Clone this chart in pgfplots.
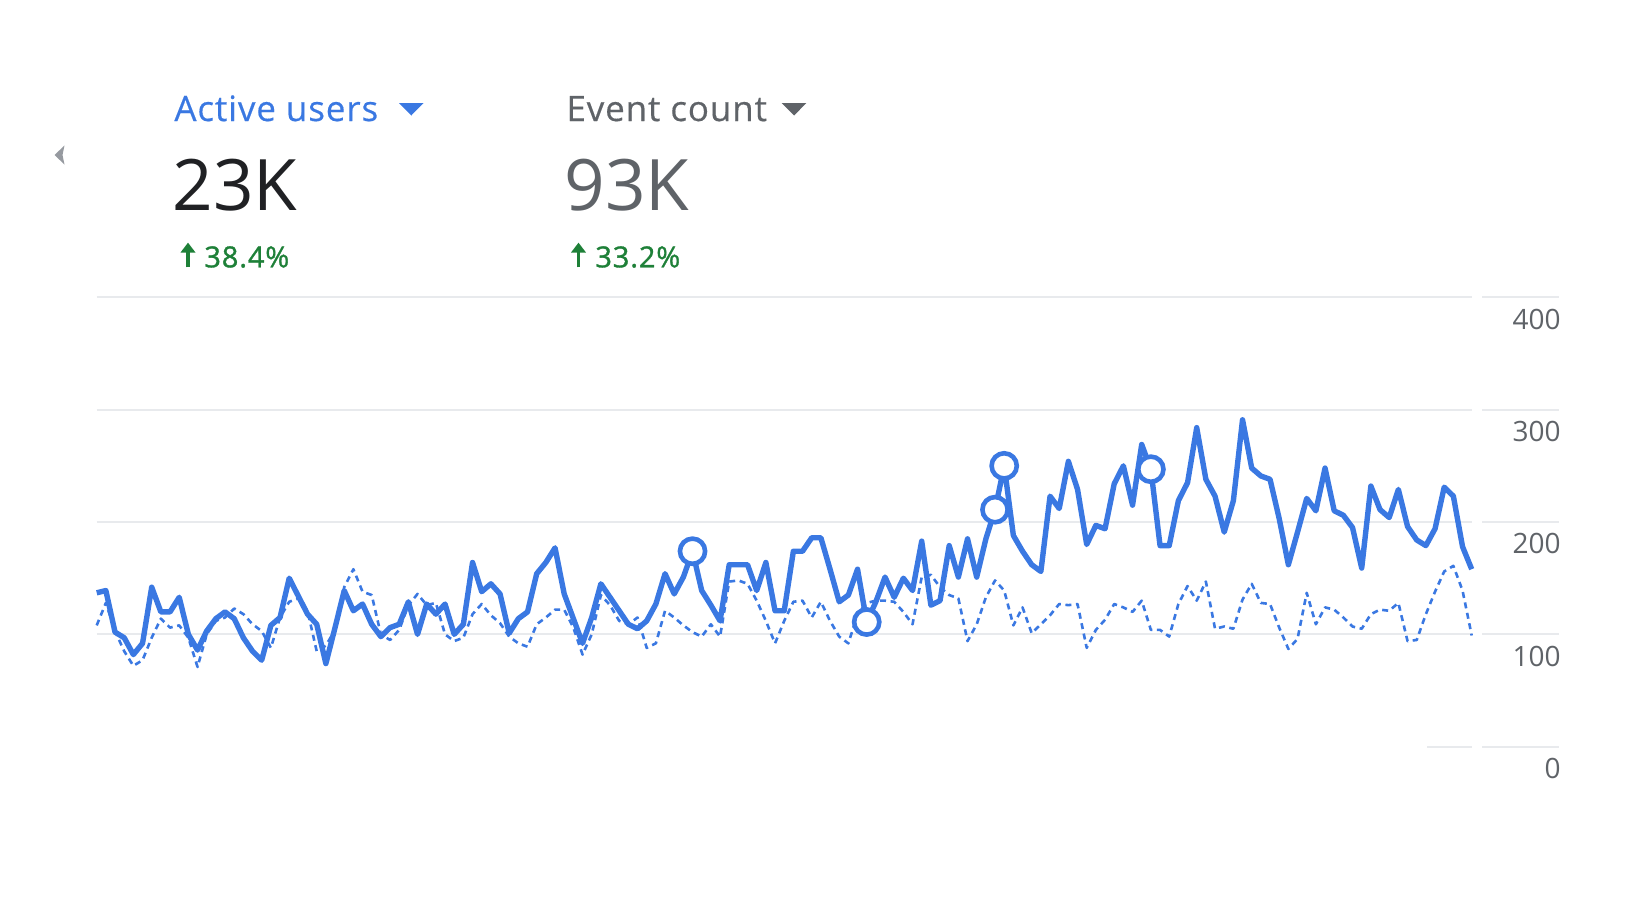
\documentclass[border=0pt]{standalone}
\usepackage{pgfplots}
\pgfplotsset{compat=1.18}
\usepackage{pgfplotstable}
\usepackage{fontspec}
\setmainfont{Open Sans}
\definecolor{gblue}{RGB}{58,120,226}
\definecolor{ggrid}{RGB}{232,234,237}
\definecolor{ggrey}{RGB}{95,99,104}
\definecolor{gblack}{RGB}{32,33,36}
\definecolor{ggreen}{RGB}{30,128,56}
\definecolor{gchev}{RGB}{150,154,160}

\pgfplotstableread{
x cur prev
0 137 108
1 139 128
2 102 103
3 97 85
4 82 72
5 92 77
6 142 97
7 120 114
8 120 106
9 133 108
10 100 97
11 86 71
12 103 100
13 114 112
14 120 115
15 114 123
16 97 118
17 85 109
18 77 103
19 108 88
20 115 115
21 150 129
22 134 132
23 118 121
24 109 85
25 74 90
26 106 104
27 139 142
28 121 158
29 127 138
30 109 135
31 98 100
32 106 95
33 109 104
34 129 126
35 100 136
36 127 126
37 118 128
38 127 100
39 100 94
40 109 97
41 164 118
42 138 127
43 145 117
44 136 110
45 101 98
46 114 92
47 120 89
48 154 109
49 164 115
50 177 122
51 136 122
52 114 106
53 92 82
54 115 100
55 145 135
56 133 126
57 121 112
58 109 109
59 105 115
60 112 88
61 127 92
62 154 121
63 136 115
64 151 108
65 174 102
66 139 98
67 126 109
68 112 98
69 162 147
70 162 148
71 162 145
72 139 130
73 164 112
74 121 92
75 121 112
76 174 129
77 174 130
78 186 115
79 186 129
80 158 112
81 129 98
82 135 92
83 158 118
84 111 128
85 129 130
86 151 130
87 133 129
88 150 120
89 139 109
90 183 151
91 126 153
92 130 142
93 179 135
94 151 132
95 185 94
96 151 109
97 185 133
98 211 148
99 250 139
100 188 108
101 174 124
102 162 101
103 156 109
104 223 117
105 212 127
106 254 126
107 229 127
108 180 88
109 197 104
110 194 113
111 234 127
112 250 124
113 215 120
114 269 130
115 247 104
116 179 104
117 179 98
118 219 127
119 235 143
120 284 130
121 238 147
122 223 105
123 191 107
124 219 105
125 291 131
126 248 145
127 241 128
128 238 127
129 203 106
130 162 87
131 191 96
132 221 137
133 210 109
134 248 124
135 210 122
136 206 115
137 195 107
138 159 105
139 232 118
140 211 122
141 204 121
142 229 128
143 196 94
144 184 95
145 179 118
146 194 138
147 231 156
148 223 161
149 178 139
150 158 99
}\datatable

\pgfplotstableread{
x y
65 174
84 111
98 211
99 250
115 247
}\anomtable

\begin{document}
\begin{tikzpicture}
\path[use as bounding box] (0pt,0pt) rectangle (819pt,-448pt);

\begin{scope}[x=0.5pt,y=-0.5pt]
  % chevron
  \fill[gchev] (64.5,145.5) -- (54.5,155) -- (64.5,164.5) -- (62.5,155) -- cycle;
  % metric 1
  \node[anchor=base west, inner sep=0pt, text=gblue, font=\fontsize{17.5}{18}\selectfont\addfontfeatures{LetterSpace=2.5,FakeBold=0.4}] at (174,121) {Active users};
  \fill[gblue] (399,103) -- (423.5,103) -- (411.25,115.5) -- cycle;
  \node[anchor=base west, inner sep=0pt, text=gblack, font=\fontsize{35.5}{36}\selectfont] at (172,210.7) {23K};
  \draw[ggreen, line width=1.6pt] (188,267.3) -- (188,250);
  \fill[ggreen] (180.5,252.5) -- (195.5,252.5) -- (188,242.7) -- cycle;
  \node[anchor=base west, inner sep=0pt, text=ggreen, font=\fontsize{14.5}{15}\selectfont\addfontfeatures{LetterSpace=3,FakeBold=1.2}] at (204,267.3) {38.4\%};
  % metric 2
  \node[anchor=base west, inner sep=0pt, text=ggrey, font=\fontsize{17.5}{18}\selectfont\addfontfeatures{LetterSpace=2.5,FakeBold=0.4}] at (566,121) {Event count};
  \fill[ggrey] (781.7,103) -- (806.4,103) -- (794.05,115.5) -- cycle;
  \node[anchor=base west, inner sep=0pt, text=ggrey, font=\fontsize{35.5}{36}\selectfont] at (564,210.7) {93K};
  \draw[ggreen, line width=1.6pt] (578.5,267.3) -- (578.5,250);
  \fill[ggreen] (571,252.5) -- (586,252.5) -- (578.5,242.7) -- cycle;
  \node[anchor=base west, inner sep=0pt, text=ggreen, font=\fontsize{14.5}{15}\selectfont\addfontfeatures{LetterSpace=3,FakeBold=1.2}] at (595,267.3) {33.2\%};
\end{scope}

\begin{axis}[
  at={(48.35pt,-373.35pt)}, anchor=south west,
  width=687.5pt, height=224.7pt, scale only axis,
  xmin=0, xmax=150, ymin=0, ymax=400,
  clip=false,
  axis line style={draw=none},
  xtick=\empty,
  ytick={100,200,300,400},
  extra y ticks={0},
  extra y tick style={ymajorgrids=false},
  ymajorgrids,
  major grid style={ggrid, line width=1.1pt},
  yticklabel pos=right,
  major tick length=0pt,
  tick style={draw=none},
  /pgf/number format/assume math mode=true,
  yticklabel style={anchor=north east, inner sep=0pt, xshift=44.65pt, yshift=-5.5pt,
    font=\fontsize{14}{14}\selectfont, text=ggrey},
]
  \draw[ggrid, line width=1.1pt] (axis cs:151.12,0) -- (axis cs:159.52,0);
  \draw[ggrid, line width=1.1pt] (axis cs:151.12,100) -- (axis cs:159.52,100);
  \draw[ggrid, line width=1.1pt] (axis cs:151.12,200) -- (axis cs:159.52,200);
  \draw[ggrid, line width=1.1pt] (axis cs:151.12,300) -- (axis cs:159.52,300);
  \draw[ggrid, line width=1.1pt] (axis cs:151.12,400) -- (axis cs:159.52,400);
  \draw[ggrid, line width=1.1pt] (axis cs:145.1,0) -- (axis cs:150,0);

  \addplot[gblue, line width=1.3pt, dash pattern=on 3pt off 2.3pt, line join=round, mark=none]
    table[x=x, y=prev]{\datatable};
  \addplot[gblue, line width=2.7pt, line join=round, mark=none]
    table[x=x, y=cur]{\datatable};
  \addplot[only marks, mark=*, mark size=6.3pt,
    mark options={fill=white, draw=gblue, line width=2.3pt}]
    table[x=x, y=y]{\anomtable};
\end{axis}
\end{tikzpicture}
\end{document}
